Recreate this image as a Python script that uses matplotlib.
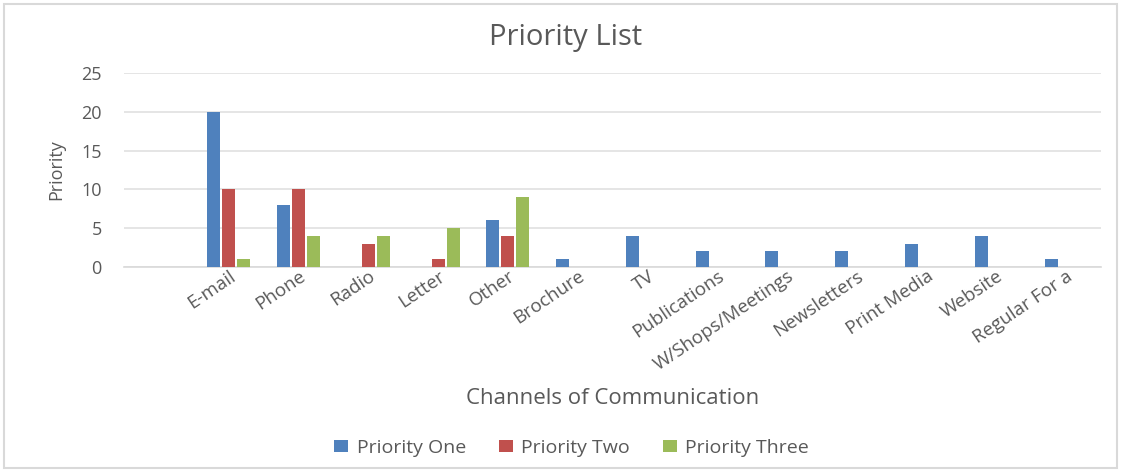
import numpy as np
import matplotlib
matplotlib.use('Agg')
import matplotlib.pyplot as plt
from matplotlib.patches import Rectangle

plt.rcParams['font.family'] = ['Open Sans', 'DejaVu Sans']

# Survey counts per channel (first slot is an unnamed blank category)
channels = ['', 'E-mail', 'Phone', 'Radio', 'Letter', 'Other', 'Brochure', 'TV',
            'Publications', 'W/Shops/Meetings', 'Newsletters', 'Print Media',
            'Website', 'Regular For a']
priority_one = [0, 20, 8, 0, 0, 6, 1, 4, 2, 2, 2, 3, 4, 1]
priority_two = [0, 10, 10, 3, 1, 4, 0, 0, 0, 0, 0, 0, 0, 0]
priority_three = [0, 1, 4, 4, 5, 9, 0, 0, 0, 0, 0, 0, 0, 0]
y_ticks = [0, 5, 10, 15, 20, 25]

blue = '#4F81BD'
red = '#C0504D'
green = '#9BBB59'
text_grey = '#595959'

fig = plt.figure(figsize=(11.21, 4.71), dpi=100)
ax = fig.add_axes([0.1106, 0.4331, 0.8716, 0.4119])

x = np.arange(len(channels))
step = 0.215
width = 0.186
ax.bar(x - step, priority_one, width, color=blue, label='Priority One', zorder=3)
ax.bar(x, priority_two, width, color=red, label='Priority Two', zorder=3)
ax.bar(x + step, priority_three, width, color=green, label='Priority Three', zorder=3)

ax.set_xlim(-0.5, len(channels) - 0.5)
ax.set_ylim(0, 25)
ax.set_yticks(y_ticks)
ax.yaxis.grid(True, color='#e0e0e0', linewidth=1.2, zorder=0)
ax.set_axisbelow(True)
for side in ['top', 'right', 'left']:
    ax.spines[side].set_visible(False)
ax.spines['bottom'].set_color('#d9d9d9')
ax.spines['bottom'].set_linewidth(1.2)
ax.tick_params(axis='both', length=0, colors=text_grey)
ax.tick_params(axis='y', pad=16, labelsize=13)

# slanted category names, right end sitting just under each group
ax.set_xticks(x)
ax.set_xticklabels(channels, rotation=34, ha='right', va='top',
                   rotation_mode='anchor', fontsize=13.5)
ax.tick_params(axis='x', pad=0)

ax.set_ylabel('Priority', color=text_grey, fontsize=13)
ax.yaxis.set_label_coords(-0.0696, 0.5)
ax.yaxis.label.set_va('center')

ax.set_xlabel('Channels of Communication', color=text_grey, fontsize=16)
ax.xaxis.set_label_coords(0.5, -0.68)
ax.xaxis.label.set_va('center')

fig.text(0.5045, 0.921, 'Priority List', ha='center', va='center',
         fontsize=21, color=text_grey)

fig.legend(loc='center', bbox_to_anchor=(0.51, 0.049), ncol=3, frameon=False,
           fontsize=14, handlelength=0.7, handleheight=0.55,
           handletextpad=0.45, columnspacing=1.7, labelcolor=text_grey)

# light outline around the whole chart area
fig.patches.append(Rectangle((4 / 1121, 3 / 471), 1113 / 1121, 464 / 471,
                             transform=fig.transFigure, fill=False,
                             edgecolor='#d9d9d9', linewidth=1.5))

fig.savefig('out.png', dpi=100)
